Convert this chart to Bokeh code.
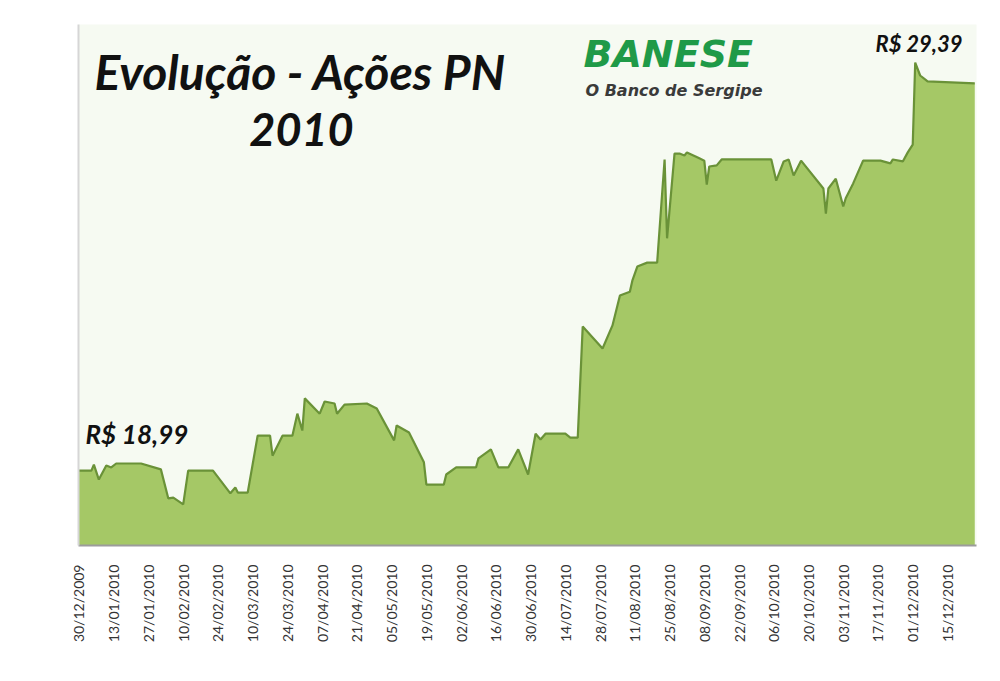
import datetime as dt
from bokeh.plotting import figure
from bokeh.models import Range1d, FixedTicker, Label, ColumnDataSource
from bokeh.embed import file_html
from bokeh.resources import INLINE
import math

# ---------------- data ----------------
dates = [
    "2009-12-30", "2010-01-04", "2010-01-05", "2010-01-07", "2010-01-10", "2010-01-12",
    "2010-01-14", "2010-01-24", "2010-02-01", "2010-02-04", "2010-02-06", "2010-02-10",
    "2010-02-12", "2010-02-22", "2010-03-01", "2010-03-03", "2010-03-04", "2010-03-08",
    "2010-03-12", "2010-03-17", "2010-03-18", "2010-03-22", "2010-03-26", "2010-03-28",
    "2010-03-30", "2010-03-31", "2010-04-06", "2010-04-08", "2010-04-12", "2010-04-13",
    "2010-04-16", "2010-04-25", "2010-04-29", "2010-05-06", "2010-05-07", "2010-05-12",
    "2010-05-18", "2010-05-19", "2010-05-26", "2010-05-27", "2010-05-31", "2010-06-08",
    "2010-06-09", "2010-06-14", "2010-06-17", "2010-06-21", "2010-06-25", "2010-06-29",
    "2010-07-02", "2010-07-04", "2010-07-06", "2010-07-14", "2010-07-16", "2010-07-19",
    "2010-07-21", "2010-07-29", "2010-08-02", "2010-08-05", "2010-08-09", "2010-08-10",
    "2010-08-12", "2010-08-16", "2010-08-20", "2010-08-23", "2010-08-24", "2010-08-27",
    "2010-08-29", "2010-08-31", "2010-09-01", "2010-09-06", "2010-09-08", "2010-09-09",
    "2010-09-10", "2010-09-13", "2010-09-15", "2010-10-05", "2010-10-07", "2010-10-10",
    "2010-10-12", "2010-10-14", "2010-10-17", "2010-10-26", "2010-10-27", "2010-10-28",
    "2010-10-31", "2010-11-03", "2010-11-04", "2010-11-07", "2010-11-11", "2010-11-18",
    "2010-11-22", "2010-11-23", "2010-11-27", "2010-11-29", "2010-12-01", "2010-12-02",
    "2010-12-04", "2010-12-07", "2010-12-26",
]
prices = [
    18.99, 18.99, 19.14, 18.76, 19.12, 19.07,
    19.17, 19.17, 19.02, 18.28, 18.30, 18.13,
    18.99, 18.99, 18.41, 18.56, 18.43, 18.43,
    19.88, 19.88, 19.37, 19.88, 19.88, 20.44,
    20.01, 20.83, 20.44, 20.75, 20.70, 20.44,
    20.67, 20.70, 20.57, 19.76, 20.14, 19.96,
    19.20, 18.63, 18.63, 18.89, 19.07, 19.07,
    19.30, 19.53, 19.07, 19.07, 19.53, 18.89,
    19.93, 19.78, 19.93, 19.93, 19.83, 19.83,
    22.66, 22.10, 22.69, 23.45, 23.55, 23.83,
    24.19, 24.29, 24.29, 26.92, 24.91, 27.07,
    27.07, 27.02, 27.10, 26.95, 26.89, 26.28,
    26.74, 26.77, 26.92, 26.92, 26.38, 26.87,
    26.92, 26.51, 26.89, 26.18, 25.54, 26.18,
    26.43, 25.72, 25.93, 26.31, 26.89, 26.89,
    26.82, 26.92, 26.87, 27.10, 27.30, 29.39,
    29.06, 28.91, 28.86,
]
tick_labels = [
    "30/12/2009", "13/01/2010", "27/01/2010", "10/02/2010", "24/02/2010", "10/03/2010",
    "24/03/2010", "07/04/2010", "21/04/2010", "05/05/2010", "19/05/2010", "02/06/2010",
    "16/06/2010", "30/06/2010", "14/07/2010", "28/07/2010", "11/08/2010", "25/08/2010",
    "08/09/2010", "22/09/2010", "06/10/2010", "20/10/2010", "03/11/2010", "17/11/2010",
    "01/12/2010", "15/12/2010",
]
first_label = "R$ 18,99"
last_label = "R$ 29,39"
title_line1 = "Evolução - Ações PN"
title_line2 = "2010"

# ---------------- helpers ----------------
DAY = 86400000.0
EPOCH = dt.datetime(1970, 1, 1)


def to_ms(d):
    return (d - EPOCH).total_seconds() * 1000.0


xs = [to_ms(dt.datetime.strptime(s, "%Y-%m-%d")) for s in dates]
tick_ms = [to_ms(dt.datetime.strptime(s, "%d/%m/%Y")) for s in tick_labels]

x0 = xs[0]
x_start = x0 - 0.2 * DAY
x_end = x0 + 361.7 * DAY
y_start = 17.08
y_end = 30.36

# frame geometry (page pixels)
FL, FR, FT, FB = 78, 976, 24, 545


def px(xp, yp):
    """page pixel -> data coordinates"""
    x = x_start + (xp - FL) / (FR - FL) * (x_end - x_start)
    y = y_start + (FB - yp) / (FB - FT) * (y_end - y_start)
    return x, y


# ---------------- figure ----------------
p = figure(
    width=992, height=673,
    x_axis_type="datetime",
    x_range=Range1d(x_start, x_end), y_range=Range1d(y_start, y_end),
    output_backend="svg", toolbar_location=None,
    min_border_left=78, min_border_right=16, min_border_top=24, min_border_bottom=128,
)
p.background_fill_color = "#f6faf2"
p.border_fill_color = "white"
p.outline_line_color = None
p.xgrid.visible = False
p.ygrid.visible = False

src = ColumnDataSource(dict(x=xs, y=prices, base=[y_start] * len(xs)))
p.varea(x="x", y1="base", y2="y", source=src, fill_color="#a5c866")
p.line(x="x", y="y", source=src, line_color="#6a9238", line_width=2.2)

# x axis
p.xaxis.ticker = FixedTicker(ticks=tick_ms)
p.xaxis.major_label_overrides = {t: l for t, l in zip(tick_ms, tick_labels)}
p.xaxis.major_label_orientation = math.pi / 2
p.xaxis.major_tick_line_color = None
p.xaxis.minor_tick_line_color = None
p.xaxis.major_tick_out = 0
p.xaxis.major_tick_in = 0
p.xaxis.major_label_standoff = 19
p.xaxis.axis_line_color = "#9c9c9c"
p.xaxis.axis_line_width = 2
p.xaxis.major_label_text_font = "Lato"
p.xaxis.major_label_text_font_size = "14px"
p.xaxis.major_label_text_color = "#333333"

# y axis: only a faint left line
p.yaxis.major_tick_line_color = None
p.yaxis.minor_tick_line_color = None
p.yaxis.major_label_text_color = None
p.yaxis.major_label_text_font_size = "1px"
p.yaxis.axis_line_color = "#d6d6d6"
p.yaxis.axis_line_width = 2


# ---------------- texts ----------------
def add_label(text, xp, yp, size, font="Lato", style="bold italic", color="#111111", align="left"):
    # yp: wanted baseline in page pixels (compensated for the renderer's offset)
    x, y = px(xp, yp - 0.41 * size)
    p.add_layout(Label(x=x, y=y, text=text, text_font=font, text_font_size=f"{size}px",
                       text_font_style=style, text_color=color, text_align=align,
                       text_baseline="alphabetic"))


add_label(title_line1, 300, 91, 48, align="center")
add_label(title_line2, 301, 147, 45, align="center")
add_label(first_label, 85, 444, 26)
add_label(last_label, 875, 52, 22)
add_label("BANESE", 583, 69, 38, font="DejaVu Sans", color="#1f9a48")
add_label("O Banco de Sergipe", 585, 97, 16, font="DejaVu Sans", color="#3a3a3a")

open("out.html", "w").write(file_html(p, INLINE))
